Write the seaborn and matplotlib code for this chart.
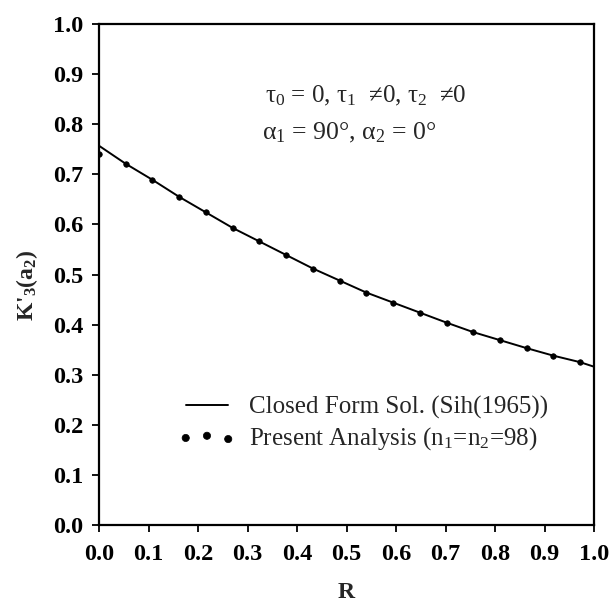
import matplotlib
matplotlib.use("Agg")
import matplotlib.pyplot as plt
import seaborn as sns
import pandas as pd

# Data
r_points = [0.0, 0.054, 0.108, 0.162, 0.216, 0.270, 0.324, 0.378, 0.432, 0.486,
            0.540, 0.594, 0.648, 0.702, 0.756, 0.810, 0.864, 0.918, 0.972]
k_points = [0.740, 0.721, 0.689, 0.655, 0.624, 0.593, 0.566, 0.539, 0.512, 0.488,
            0.464, 0.444, 0.424, 0.404, 0.385, 0.369, 0.353, 0.338, 0.325]

r_line = [0.0, 0.054, 0.108, 0.162, 0.216, 0.270, 0.324, 0.378, 0.432, 0.486,
          0.540, 0.594, 0.648, 0.702, 0.756, 0.810, 0.864, 0.918, 0.972, 1.0]
k_line = [0.757, 0.721, 0.689, 0.655, 0.624, 0.593, 0.566, 0.539, 0.512, 0.488,
          0.464, 0.444, 0.424, 0.404, 0.385, 0.369, 0.353, 0.338, 0.325, 0.316]

ticks = [0.0, 0.1, 0.2, 0.3, 0.4, 0.5, 0.6, 0.7, 0.8, 0.9, 1.0]
tick_labels = ["0.0", "0.1", "0.2", "0.3", "0.4", "0.5", "0.6", "0.7", "0.8", "0.9", "1.0"]

sns.set_style("ticks")
plt.rcParams["font.family"] = ["Liberation Serif", "DejaVu Serif"]
plt.rcParams["mathtext.fontset"] = "custom"
plt.rcParams["mathtext.rm"] = "Liberation Serif"
plt.rcParams["mathtext.it"] = "Liberation Serif:italic"
plt.rcParams["mathtext.bf"] = "Liberation Serif:bold"

df_line = pd.DataFrame({"R": r_line, "K": k_line})
df_pts = pd.DataFrame({"R": r_points, "K": k_points})

fig = plt.figure(figsize=(6.09, 6.05), dpi=100)
ax = fig.add_axes([0.1626, 0.1322, 0.8128, 0.8281])

sns.lineplot(data=df_line, x="R", y="K", ax=ax, color="black", lw=1.4,
             label="Closed Form Sol. (Sih(1965))", sort=True)
sns.scatterplot(data=df_pts, x="R", y="K", ax=ax, color="black", s=16,
                edgecolor="black", linewidth=0.5,
                label="Present Analysis (n$_1$=n$_2$=98)", zorder=3)

ax.set_xlim(0, 1)
ax.set_ylim(0, 1)
ax.set_xticks(ticks)
ax.set_xticklabels(tick_labels, fontweight="bold")
ax.set_yticks(ticks)
ax.set_yticklabels(tick_labels, fontweight="bold")
ax.tick_params(axis="both", direction="out", length=5, width=1.3,
               labelsize=17.5, colors="black")
ax.tick_params(axis="x", pad=9)
ax.tick_params(axis="y", pad=6)
for s in ax.spines.values():
    s.set_visible(True)
    s.set_linewidth(1.6)
    s.set_color("black")

ax.set_xlabel("R", fontsize=17, fontweight="bold")
ax.set_ylabel(r"K'$_\mathbf{3}$(a$_\mathbf{2}$)", fontsize=17, fontweight="bold")
ax.xaxis.set_label_coords(0.5, -0.113)
ax.yaxis.set_label_coords(-0.12, 0.478)

ax.text(0.335, 0.856, "τ$_0$ = 0, τ$_1$  ≠0, τ$_2$  ≠0", fontsize=18,
        ha="left", va="center", transform=ax.transAxes)
ax.text(0.329, 0.782, "α$_1$ = 90°, α$_2$ = 0°", fontsize=18.5,
        ha="left", va="center", transform=ax.transAxes)

leg = ax.legend(loc="upper left", bbox_to_anchor=(0.16, 0.258), frameon=False,
                fontsize=18, handlelength=2.3, handletextpad=0.52,
                numpoints=3, scatterpoints=3, borderpad=0, borderaxespad=0,
                labelspacing=0.25, markerscale=1.3)

fig.savefig("out.png", dpi=100)
